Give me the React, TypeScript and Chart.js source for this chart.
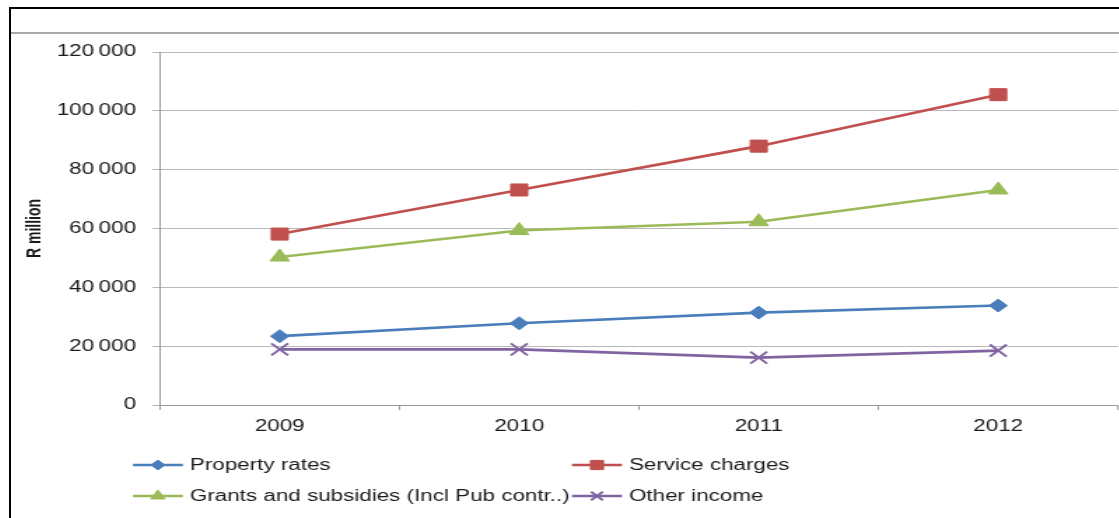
import React, { useEffect, useRef } from 'react';
import { Chart, registerables } from 'chart.js';
import { drawPoint } from 'chart.js/helpers';

Chart.register(...registerables);

// Municipal revenue sources, R million
const years = ['2009', '2010', '2011', '2012'];
const propertyRates = [23400, 27800, 31400, 33800];
const serviceCharges = [58100, 73100, 88000, 105500];
const grantsSubsidies = [50300, 59300, 62300, 73100];
const otherIncome = [18900, 18900, 16100, 18500];

const seriesNames = [
  'Property rates',
  'Service charges',
  'Grants and subsidies (Incl Pub contr..)',
  'Other income',
];
const yTickLabels = ['0', '20\u2009000', '40\u2009000', '60\u2009000', '80\u2009000', '100\u2009000', '120\u2009000'];
const yAxisTitle = 'R million';

const FONT = '"Liberation Sans", Arial, sans-serif';
const TEXT = '#1a1a1a';
const STRETCH = 1.4; // the whole figure is drawn horizontally widened
const CANVAS_W = 792;
const CANVAS_H = 509;

// Two-column legend below the plot, each entry a line with its marker then the name
const gridLegend = {
  id: 'gridLegend',
  afterDraw(chart: any, _args: any, opts: any) {
    const { ctx, chartArea } = chart;
    ctx.save();
    chart.data.datasets.forEach((ds: any, i: number) => {
      const col = i % 2;
      const row = Math.floor(i / 2);
      const x0 = opts.columns[col];
      const y = chartArea.bottom + opts.rows[row];
      ctx.strokeStyle = ds.borderColor;
      ctx.lineWidth = ds.borderWidth;
      ctx.beginPath();
      ctx.moveTo(x0, y);
      ctx.lineTo(x0 + opts.lineLength, y);
      ctx.stroke();
      ctx.fillStyle = ds.pointBackgroundColor;
      ctx.strokeStyle = ds.pointBorderColor;
      ctx.lineWidth = ds.pointBorderWidth;
      drawPoint(
        ctx,
        { pointStyle: ds.pointStyle, radius: opts.markerRadius[i], rotation: 0, borderWidth: ds.pointBorderWidth },
        x0 + opts.lineLength / 2,
        y
      );
      ctx.fillStyle = TEXT;
      ctx.font = `16px ${FONT}`;
      ctx.textAlign = 'left';
      ctx.textBaseline = 'middle';
      ctx.fillText(seriesNames[i], x0 + opts.lineLength + opts.textGap, y + 1);
    });
    ctx.restore();
  },
};

function series(label: string, data: number[], color: string, pointStyle: string, radius: number, pointBorderWidth: number) {
  return {
    label,
    data,
    borderColor: color,
    backgroundColor: color,
    borderWidth: 2.6,
    pointStyle,
    pointRadius: radius,
    pointBackgroundColor: color,
    pointBorderColor: color,
    pointBorderWidth,
    tension: 0,
  };
}

export default function App() {
  const canvasRef = useRef<HTMLCanvasElement | null>(null);

  useEffect(() => {
    const canvas = canvasRef.current;
    if (!canvas) return;
    const chart = new Chart(canvas, {
      type: 'line',
      data: {
        labels: years,
        datasets: [
          series(seriesNames[0], propertyRates, '#4A7EBB', 'rectRot', 6.5, 1),
          series(seriesNames[1], serviceCharges, '#C0504D', 'rect', 8.5, 1),
          series(seriesNames[2], grantsSubsidies, '#9BBB59', 'triangle', 8, 1),
          series(seriesNames[3], otherIncome, '#8064A2', 'crossRot', 8.5, 2),
        ] as any,
      },
      options: {
        animation: false,
        responsive: false,
        devicePixelRatio: 1,
        layout: { autoPadding: false, padding: { top: 43, right: 1.3, bottom: 83, left: 0 } },
        plugins: {
          legend: { display: false },
          tooltip: { enabled: false },
          gridLegend: {
            columns: [87.1, 400.7],
            rows: [60, 91],
            lineLength: 35.7,
            textGap: 5,
            markerRadius: [5, 6.5, 6, 6],
          },
        } as any,
        scales: {
          x: {
            offset: true,
            grid: {
              offset: true,
              drawOnChartArea: false,
              drawTicks: true,
              tickLength: 5,
              color: '#9a9a9a',
            },
            border: { color: '#9a9a9a', width: 1 },
            ticks: {
              font: { family: FONT, size: 16 },
              color: TEXT,
              padding: 7,
              maxRotation: 0,
            },
            afterFit: (s: any) => {
              s.height = 30;
              s.paddingLeft = 0;
              s.paddingRight = 0;
            },
          },
          y: {
            min: 0,
            max: 120000,
            ticks: {
              stepSize: 20000,
              callback: (_v: any, i: number) => yTickLabels[i],
              font: { family: FONT, size: 16 },
              color: TEXT,
              padding: 11.4,
            },
            grid: { color: '#b8b8b8', tickLength: 5.7 },
            border: { color: '#9a9a9a', width: 1 },
            title: {
              display: true,
              text: yAxisTitle,
              font: { family: FONT, size: 14, weight: 'bold' },
              color: TEXT,
              padding: { top: 8.6, bottom: 0 },
            },
            afterFit: (s: any) => {
              s.width = 106.4;
              s.paddingTop = 0;
              s.paddingBottom = 0;
            },
          },
        },
      } as any,
      plugins: [gridLegend],
    });
    return () => chart.destroy();
  }, []);

  return (
    <div
      style={{
        position: 'fixed',
        left: 9,
        top: 7,
        width: 1110,
        height: 511,
        boxSizing: 'border-box',
        borderTop: '2px solid #000',
        borderLeft: '2px solid #000',
        overflow: 'hidden',
        background: '#fff',
      }}
    >
      <div style={{ position: 'absolute', left: 0, right: 0, top: 23, height: 2, background: '#a8a8a8' }} />
      <div
        style={{
          position: 'absolute',
          left: 0,
          top: 0,
          width: CANVAS_W,
          height: CANVAS_H,
          transform: `scaleX(${STRETCH})`,
          transformOrigin: '0 0',
        }}
      >
        <canvas ref={canvasRef} width={CANVAS_W} height={CANVAS_H} style={{ display: 'block' }} />
      </div>
    </div>
  );
}
